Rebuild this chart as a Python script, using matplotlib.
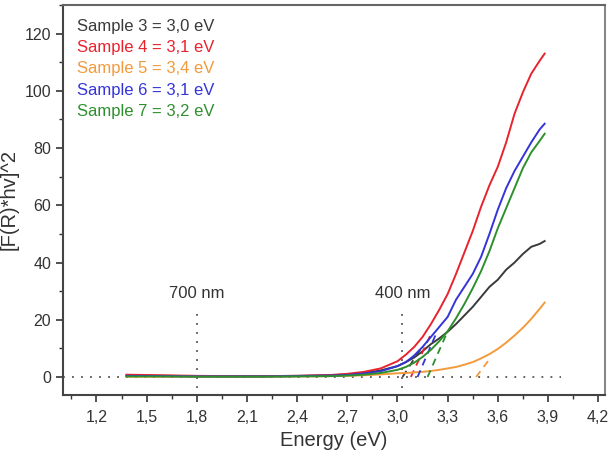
import matplotlib.pyplot as plt
from matplotlib.ticker import MultipleLocator, FuncFormatter

plt.rcParams['font.family'] = ['Liberation Sans', 'DejaVu Sans']

# photon energy (eV)
energy = [1.38, 1.6, 1.8, 2.0, 2.2, 2.4, 2.6, 2.7, 2.8, 2.9, 3.0, 3.05, 3.1, 3.15,
          3.2, 3.25, 3.3, 3.35, 3.4, 3.45, 3.5, 3.55, 3.6, 3.65, 3.7, 3.75, 3.8,
          3.85, 3.88]

# [F(R)*hv]^2 for each sample
sample3 = [0.5, 0.4, 0.3, 0.3, 0.3, 0.4, 0.6, 0.9, 1.4, 2.3, 3.8, 5.2, 6.8, 9.0,
           11.5, 13.5, 15.8, 18.5, 21.5, 24.5, 28.0, 31.5, 34.0, 37.5, 40.0, 43.0,
           45.5, 46.5, 47.5]
sample4 = [0.8, 0.6, 0.4, 0.3, 0.3, 0.4, 0.7, 1.1, 1.8, 3.0, 5.5, 7.8, 10.5, 14.0,
           18.5, 23.5, 29.0, 36.0, 43.5, 51.0, 59.5, 67.0, 73.5, 82.0, 92.0, 99.5,
           106.0, 110.5, 113.0]
sample5 = [0.1, 0.1, 0.1, 0.1, 0.1, 0.2, 0.3, 0.4, 0.6, 0.9, 1.3, 1.4, 1.6, 1.8,
           2.1, 2.5, 3.0, 3.5, 4.3, 5.2, 6.5, 8.0, 9.8, 12.0, 14.5, 17.2, 20.3,
           23.8, 26.0]
sample6 = [0.4, 0.3, 0.2, 0.2, 0.2, 0.3, 0.5, 0.7, 1.2, 2.0, 3.8, 5.2, 7.5, 10.5,
           14.0, 17.5, 21.0, 27.0, 31.5, 36.0, 42.0, 50.0, 58.5, 66.0, 72.0, 77.0,
           82.0, 86.5, 88.5]
sample7 = [0.2, 0.2, 0.1, 0.1, 0.1, 0.2, 0.3, 0.5, 0.8, 1.4, 2.5, 3.5, 5.0, 7.0,
           9.5, 12.5, 16.0, 20.5, 25.5, 31.0, 37.0, 44.0, 52.0, 59.0, 66.0, 73.0,
           78.5, 82.5, 85.0]

# tangent fits: (x start, x end, y end), y start = 0
tangents = {
    'black': (3.03, 3.14, 10),
    'red': (3.08, 3.20, 15),
    'blue': (3.12, 3.23, 15),
    'green': (3.18, 3.30, 16),
    'orange': (3.47, 3.56, 7),
}

labels = ['Sample 3 = 3,0 eV', 'Sample 4 = 3,1 eV', 'Sample 5 = 3,4 eV',
          'Sample 6 = 3,1 eV', 'Sample 7 = 3,2 eV']
colors = {'black': '#3a3a3a', 'red': '#e8232e', 'orange': '#f39a3c',
          'blue': '#3434d8', 'green': '#2e8f2e'}
order = ['black', 'red', 'orange', 'blue', 'green']
series = [sample3, sample4, sample5, sample6, sample7]

fig = plt.figure(figsize=(6.14, 4.53), dpi=100)
ax = fig.add_axes([0.1026, 0.128, 0.8825, 0.861])

# baseline and wavelength markers
ax.plot([1.0, 3.98], [0, 0], color='#555555', lw=1.3, ls=(0, (1, 4)))
ax.plot([1.8, 1.8], [-4, 23.5], color='#555555', lw=1.3, ls=(0, (1, 4)))
ax.plot([3.03, 3.03], [-4, 23.5], color='#555555', lw=1.3, ls=(0, (1, 4)))
ax.text(1.8, 26.5, '700 nm', ha='center', va='bottom', fontsize=12, color='#333333')
ax.text(3.03, 26.5, '400 nm', ha='center', va='bottom', fontsize=12, color='#333333')

for key, y in zip(order, series):
    ax.plot(energy, y, color=colors[key], lw=1.4)
    x0, x1, y1 = tangents[key]
    ax.plot([x0, x1], [0, y1], color=colors[key], lw=1.3, ls=(0, (4, 3)))

for i, (key, lab) in enumerate(zip(order, labels)):
    ax.text(0.026, 0.946 - i * 0.055, lab, transform=ax.transAxes, color=colors[key],
            fontsize=12, va='center', ha='left')

ax.set_xlim(1.0, 4.24)
ax.set_ylim(-6.3, 130)
ax.xaxis.set_major_locator(MultipleLocator(0.3))
ax.xaxis.set_minor_locator(MultipleLocator(0.15))
ax.yaxis.set_major_locator(MultipleLocator(20))
ax.yaxis.set_minor_locator(MultipleLocator(10))
ax.set_xticks([1.2, 1.5, 1.8, 2.1, 2.4, 2.7, 3.0, 3.3, 3.6, 3.9, 4.2])
ax.xaxis.set_major_formatter(FuncFormatter(lambda v, p: f'{v:.1f}'.replace('.', ',')))
ax.tick_params(which='major', direction='out', length=5, width=1.2, labelsize=11.5,
               colors='#333333')
ax.tick_params(axis='x', which='major', pad=6)
ax.tick_params(which='minor', direction='out', length=3, width=1.0, colors='#333333')
for s in ax.spines.values():
    s.set_linewidth(1.5)
    s.set_color('#444444')
ax.spines['right'].set_color('#888888')
ax.spines['top'].set_color('#666666')

ax.set_xlabel('Energy (eV)', fontsize=14.5, color='#333333', labelpad=4)
ax.set_ylabel('[F(R)*hv]^2', fontsize=14.5, color='#333333', labelpad=4)

fig.savefig('out.png', dpi=100)
